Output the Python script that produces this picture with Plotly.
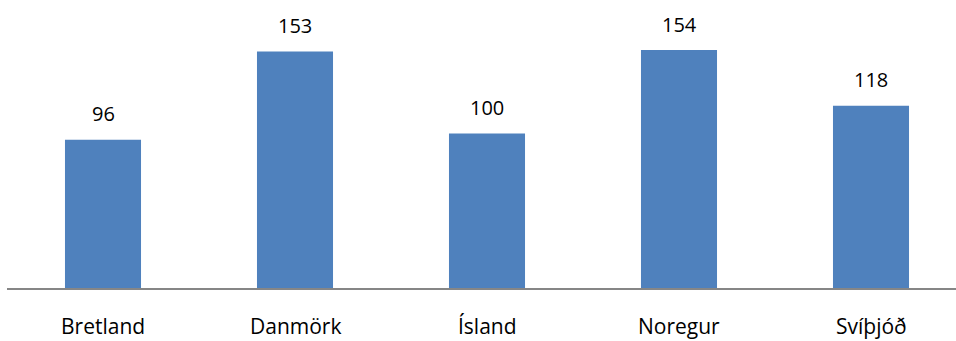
import plotly.graph_objects as go

# Categories and values
countries = ["Bretland", "Danmörk", "Ísland", "Noregur", "Svíþjóð"]
values = [96, 153, 100, 154, 118]

BAR_COLOR = "#4F81BD"
FONT = "Open Sans"

fig = go.Figure()
fig.add_trace(go.Bar(
    x=countries,
    y=values,
    marker=dict(color=BAR_COLOR, line=dict(width=0)),
    hoverinfo="skip",
))

annotations = []
# Value labels above each bar
for c, v in zip(countries, values):
    annotations.append(dict(
        x=c, y=v, xref="x", yref="y",
        text=str(v), showarrow=False,
        yanchor="middle", yshift=26,
        font=dict(family=FONT, size=20, color="#000000"),
    ))
# Category labels below the baseline, kept inside the page
for c in countries:
    annotations.append(dict(
        x=c, y=0, xref="x", yref="paper",
        text=c, showarrow=False,
        yanchor="bottom", yshift=-53, borderpad=0,
        font=dict(family=FONT, size=21, color="#000000"),
    ))

fig.update_layout(
    width=956, height=341,
    margin=dict(l=7, r=0, t=0, b=53),
    paper_bgcolor="white", plot_bgcolor="white",
    showlegend=False,
    bargap=0.604,
    annotations=annotations,
    xaxis=dict(
        range=[-0.5, -0.5 + 949 / 192],
        showticklabels=False, ticks="",
        showline=True, linecolor="#868686", linewidth=2,
        showgrid=False, zeroline=False, fixedrange=True,
    ),
    yaxis=dict(
        range=[0, 186.4],
        visible=False, showgrid=False, zeroline=False, fixedrange=True,
    ),
)

fig.write_html("out.html")
